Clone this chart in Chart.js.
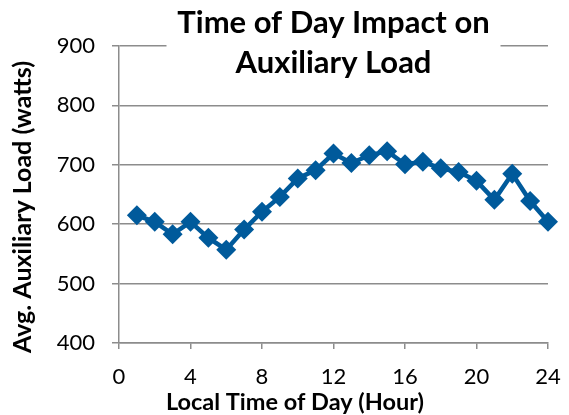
<!DOCTYPE html>
<html>
<head>
<meta charset="utf-8">
<script src="https://cdn.jsdelivr.net/npm/chart.js@4"></script>
<style>
    html, body { margin: 0; padding: 0; background: #fff; }
    #wrap { width: 569px; height: 415px; }
</style>
</head>
<body>
<div id="wrap"><canvas id="load-chart" width="569" height="415"></canvas></div>
<script>
// Hour of day and average auxiliary load (watts)
const hours = [1, 2, 3, 4, 5, 6, 7, 8, 9, 10, 11, 12, 13, 14, 15, 16, 17, 18, 19, 20, 21, 22, 23, 24];
const auxLoad = [615, 604, 583, 604, 577, 557, 591, 621, 646, 677, 691, 719, 703, 716, 723, 701, 705, 694, 688, 673, 641, 685, 639, 604];
const xTicks = [0, 4, 8, 12, 16, 20, 24];
const yTicks = [400, 500, 600, 700, 800, 900];
const titleLines = ['Time of Day Impact on', 'Auxiliary Load'];
const xTitle = 'Local Time of Day (Hour)';
const yTitle = 'Avg. Auxiliary Load (watts)';

const FONT = 'Lato, "Open Sans", sans-serif';
const GREY = '#8c8c8c';
const BLUE = '#005a9b';

// Title sits on top of the plot area, with a white box that cuts the top gridline.
// Axis titles are drawn here too, since Excel didn't centre them on the plot.
const overlayText = {
    id: 'overlayText',
    afterDraw(chart) {
        const ctx = chart.ctx;
        const area = chart.chartArea;
        const cx = (area.left + area.right) / 2;
        ctx.save();
        ctx.fillStyle = '#fff';
        ctx.fillRect(cx - 167, 36, 334, 46);
        ctx.fillStyle = '#000';
        ctx.textAlign = 'center';
        ctx.textBaseline = 'middle';
        ctx.font = 'bold 31px ' + FONT;
        ctx.fillText(titleLines[0], cx, 23);
        ctx.fillText(titleLines[1], cx, 63);

        ctx.font = 'bold 23.5px ' + FONT;
        ctx.fillText(xTitle, 295, 402);

        ctx.font = 'bold 25px ' + FONT;
        ctx.translate(23, 207);
        ctx.rotate(-Math.PI / 2);
        ctx.fillText(yTitle, 0, 0);
        ctx.restore();
    }
};

document.addEventListener('DOMContentLoaded', function() {
    const ctx = document.getElementById('load-chart').getContext('2d');

    window.loadChart = new Chart(ctx, {
        type: 'line',
        data: {
            datasets: [{
                label: 'Avg. Auxiliary Load',
                data: hours.map((h, i) => ({ x: h, y: auxLoad[i] })),
                borderColor: BLUE,
                backgroundColor: BLUE,
                borderWidth: 4.5,
                pointStyle: 'rectRot',
                pointRadius: 10,
                pointHoverRadius: 10,
                pointBorderWidth: 0,
                tension: 0,
                clip: false
            }]
        },
        options: {
            responsive: false,
            animation: false,
            layout: {
                padding: { top: 46, right: 21, bottom: 0, left: 0 }
            },
            plugins: {
                legend: { display: false },
                title: { display: false },
                tooltip: { enabled: false }
            },
            scales: {
                x: {
                    type: 'linear',
                    min: 0,
                    max: 24,
                    afterBuildTicks: function(scale) {
                        scale.ticks = xTicks.map(v => ({ value: v }));
                    },
                    afterFit: function(scale) {
                        scale.height = 415 - 343;
                        scale.paddingLeft = 0;
                        scale.paddingRight = 0;
                    },
                    grid: {
                        drawOnChartArea: false,
                        drawTicks: true,
                        tickLength: 6,
                        color: GREY,
                        lineWidth: 1.5
                    },
                    border: { color: GREY, width: 1.5 },
                    ticks: {
                        color: '#000',
                        padding: 15,
                        maxRotation: 0,
                        font: { family: FONT, size: 22 }
                    }
                },
                y: {
                    min: 400,
                    max: 900,
                    afterBuildTicks: function(scale) {
                        scale.ticks = yTicks.map(v => ({ value: v }));
                    },
                    afterFit: function(scale) {
                        scale.width = 119;
                        scale.paddingTop = 0;
                        scale.paddingBottom = 0;
                    },
                    grid: {
                        drawTicks: true,
                        tickLength: 7,
                        color: GREY,
                        lineWidth: 1.5
                    },
                    border: { color: GREY, width: 1.5 },
                    ticks: {
                        color: '#000',
                        padding: 17,
                        font: { family: FONT, size: 22 }
                    }
                }
            }
        },
        plugins: [overlayText]
    });
});
</script>
</body>
</html>
